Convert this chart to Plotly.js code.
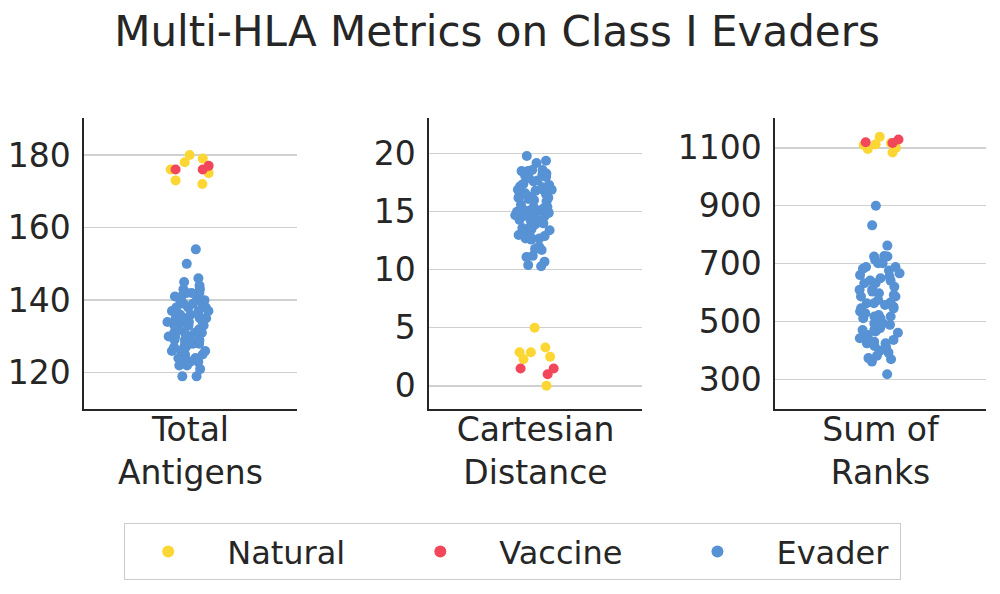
<!DOCTYPE html>
<html>
<head>
<meta charset="utf-8">
<script src="https://cdn.plot.ly/plotly-3.0.1.min.js"></script>
<style>
  html, body { margin: 0; padding: 0; background: #fff; }
  #chart { width: 1000px; height: 594px; }
</style>
</head>
<body>
<div id="chart"></div>
<script>
// metric names (x categories, one per panel)
const metrics = ['Total<br>Antigens', 'Cartesian<br>Distance', 'Sum of<br>Ranks'];
const groups = ['Natural', 'Vaccine', 'Evader'];

// Total Antigens
const antigensNatural = [178, 180, 179, 176, 175, 173, 172];
const antigensVaccine = [176, 177, 176];
const antigensEvader = [154, 150, 146, 145, 144, 143, 143, 142, 142, 141, 141, 140, 140, 139, 138, 138,
    137, 137, 136, 136, 135, 135, 135, 134, 134, 134, 134, 133, 132, 131, 131, 131, 130, 130, 130, 129,
    129, 128, 128, 127, 127, 125, 126, 126, 124, 124, 124, 123, 122, 122, 121, 119, 119,
    139, 139, 137, 137, 136, 133, 132, 133, 134, 129, 129, 128, 127, 125, 124, 126, 123, 138, 142, 140,
    131, 131, 128, 135];

// Cartesian Distance
const distanceNatural = [5.0, 3.3, 2.9, 2.9, 2.5, 2.3, 0.0];
const distanceVaccine = [1.5, 1.5, 1.0];
const distanceEvader = [19.8, 19.2, 19.4, 18.5, 18.6, 18.6, 18.5, 18.3, 18.0, 17.4, 17.6, 17.3, 16.9, 17.1,
    16.8, 16.6, 16.4, 16.5, 16.1, 16.2, 15.9, 15.4, 15.6, 15.1, 15.1, 15.0, 14.6, 14.6, 14.5, 14.3, 14.0,
    13.9, 13.7, 13.5, 13.4, 13.0, 13.0, 12.9, 12.6, 12.7, 11.7, 12.0, 11.8, 11.2, 11.1, 10.7, 10.3, 10.4,
    17.9, 17.2, 16.9, 16.9, 17.7, 16.3, 16.0, 15.4, 15.3, 15.0, 14.9, 14.7, 14.4, 14.1, 14.3, 13.6, 12.8,
    12.7, 18.1, 18.2, 16.2, 16.2, 15.1, 14.6];

// Sum of Ranks
const ranksNatural = [1100, 1117, 1112, 1084, 1096, 1138, 1110];
const ranksVaccine = [1129, 1119, 1117];
const ranksEvader = [900, 832, 762, 724, 724, 726, 712, 701, 701, 688, 682, 666, 660, 655, 649, 641, 641,
    632, 620, 609, 609, 586, 586, 591, 574, 565, 563, 551, 545, 522, 534, 528, 517, 511, 493, 493, 488,
    476, 470, 461, 453, 442, 430, 424, 411, 415, 399, 381, 392, 373, 369, 361, 317,
    688, 676, 632, 603, 597, 545, 557, 517, 511, 436, 424, 465, 470, 563];

const colors = {Natural: '#FCD734', Vaccine: '#F2465A', Evader: '#5792D5'};
const txt = '#262626';
const font = 'DejaVu Sans, Verdana, sans-serif';

const panels = [
    {metric: metrics[0], vals: [antigensNatural, antigensVaccine, antigensEvader]},
    {metric: metrics[1], vals: [distanceNatural, distanceVaccine, distanceEvader]},
    {metric: metrics[2], vals: [ranksNatural, ranksVaccine, ranksEvader]}
];

// strip plot = invisible box with all points jittered
const traces = [];
panels.forEach((p, k) => {
    const ax = k === 0 ? '' : String(k + 1);
    groups.forEach((g, j) => {
        traces.push({
            type: 'box',
            name: g,
            x0: p.metric,
            y: p.vals[j],
            xaxis: 'x' + ax,
            yaxis: 'y' + ax,
            boxpoints: 'all',
            jitter: 1,
            pointpos: 0,
            width: 0.22,
            fillcolor: 'rgba(0,0,0,0)',
            line: {width: 0, color: 'rgba(0,0,0,0)'},
            marker: {color: colors[g], size: 10},
            showlegend: false,
            hoveron: 'points'
        });
    });
});

// legend entries (dots); trailing spaces keep the column spacing of the original
const legendPad = {Natural: '\u00a0'.repeat(4) + '\u2009', Vaccine: '\u00a0'.repeat(4) + '\u2009', Evader: '\u2009'};
groups.forEach(g => {
    traces.push({
        type: 'scatter', mode: 'markers', x: [null], y: [null],
        name: '\u2002' + g + legendPad[g],
        marker: {color: colors[g], size: 12},
        showlegend: true
    });
});

const yDomain = [0.3114, 0.8008];
function xAx(domain, anchor) {
    return {
        domain: domain, anchor: anchor, type: 'category', range: [-0.5, 0.5],
        showline: true, linecolor: txt, linewidth: 1.6, showgrid: false, zeroline: false,
        ticks: '', ticklabelstandoff: -9, tickfont: {size: 33, color: txt}, fixedrange: true
    };
}
function yAx(anchor, range, tick0, dtick) {
    return {
        domain: yDomain, anchor: anchor, range: range, tick0: tick0, dtick: dtick,
        showline: true, linecolor: txt, linewidth: 1.6, showgrid: true,
        gridcolor: '#d0d0d0', gridwidth: 1.4, zeroline: false,
        ticks: '', ticklabelstandoff: 5, tickfont: {size: 33, color: txt}, fixedrange: true
    };
}

const layout = {
    width: 1000, height: 594,
    margin: {l: 0, r: 0, t: 0, b: 0, autoexpand: false},
    paper_bgcolor: '#fff', plot_bgcolor: '#fff',
    font: {family: font, color: txt},
    boxmode: 'overlay',
    title: {
        text: 'Multi-HLA Metrics on Class I Evaders',
        font: {size: 42, color: txt, family: font},
        x: 0.497, xanchor: 'center', y: 0.948, yanchor: 'middle'
    },
    xaxis: xAx([0.084, 0.297], 'y'),
    xaxis2: xAx([0.429, 0.642], 'y2'),
    xaxis3: xAx([0.775, 0.986], 'y3'),
    yaxis: yAx('x', [110, 190.1], 120, 20),
    yaxis2: yAx('x2', [-2.0, 23.05], 0, 5),
    yaxis3: yAx('x3', [197, 1202], 300, 200),
    showlegend: true,
    legend: {
        orientation: 'h', x: 0.124, xanchor: 'left', y: 0.1195, yanchor: 'top',
        bordercolor: '#cccccc', borderwidth: 1.2, bgcolor: '#fff',
        font: {size: 32, color: txt},
        itemwidth: 76,
        itemclick: false, itemdoubleclick: false
    }
};

Plotly.newPlot('chart', traces, layout, {displayModeBar: false, staticPlot: true});
</script>
</body>
</html>
